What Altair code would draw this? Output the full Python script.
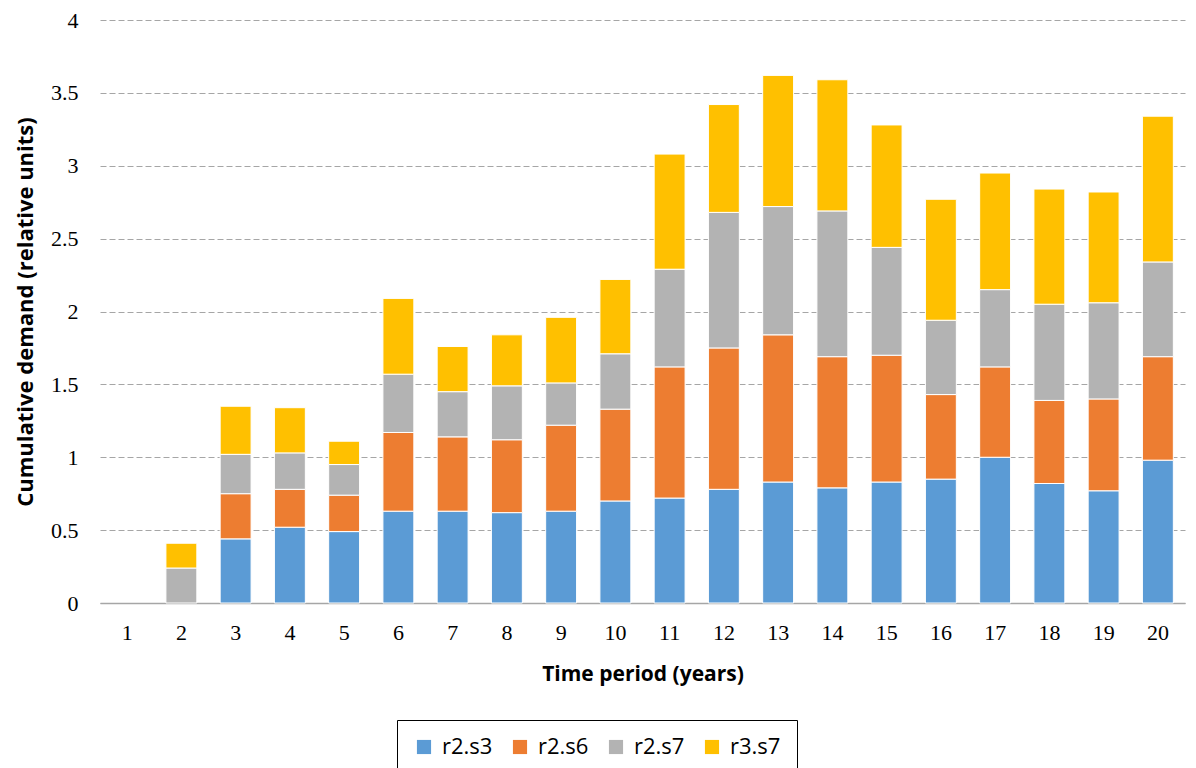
import altair as alt
import pandas as pd

periods = [str(i) for i in range(1, 21)]
series = ["r2.s3", "r2.s6", "r2.s7", "r3.s7"]
r2_s3 = [0, 0, 0.44, 0.52, 0.49, 0.63, 0.63, 0.62, 0.63, 0.70, 0.72, 0.78, 0.83, 0.79, 0.83, 0.85, 1.00, 0.82, 0.77, 0.98]
r2_s6 = [0, 0, 0.31, 0.26, 0.25, 0.54, 0.51, 0.50, 0.59, 0.63, 0.90, 0.97, 1.01, 0.90, 0.87, 0.58, 0.62, 0.57, 0.63, 0.71]
r2_s7 = [0, 0.24, 0.27, 0.25, 0.21, 0.40, 0.31, 0.37, 0.29, 0.38, 0.67, 0.93, 0.88, 1.00, 0.74, 0.51, 0.53, 0.66, 0.66, 0.65]
r3_s7 = [0, 0.17, 0.33, 0.31, 0.16, 0.52, 0.31, 0.35, 0.45, 0.51, 0.79, 0.74, 0.90, 0.90, 0.84, 0.83, 0.80, 0.79, 0.76, 1.00]
colors = ["#5B9BD5", "#ED7D31", "#B3B3B3", "#FFC000"]
y_ticks = [0, 0.5, 1, 1.5, 2, 2.5, 3, 3.5, 4]

rows = []
for k, (name, vals) in enumerate(zip(series, [r2_s3, r2_s6, r2_s7, r3_s7])):
    for p, v in zip(periods, vals):
        rows.append({"period": p, "series": name, "value": v, "order": k})
df = pd.DataFrame(rows)

chart = alt.Chart(df).mark_bar(stroke="white", strokeWidth=1).encode(
    x=alt.X("period:N", sort=periods, title="Time period (years)",
            scale=alt.Scale(domain=periods, paddingInner=0.43, paddingOuter=0.215),
            axis=alt.Axis(labelAngle=0, ticks=False, domainColor="#A6A6A6", domainWidth=1.5,
                          labelFont="Liberation Serif", labelFontSize=22, labelColor="#000000",
                          labelPadding=19, titleFont="Open Sans", titleFontSize=21,
                          titleFontWeight="bold", titleColor="#000000", titlePadding=20, grid=False)),
    y=alt.Y("value:Q", stack="zero", title="Cumulative demand (relative units)",
            scale=alt.Scale(domain=[0, 4], nice=False),
            axis=alt.Axis(values=y_ticks, format="~g", ticks=False, domain=False, grid=True,
                          gridColor="#A6A6A6", gridDash=[6, 3], gridWidth=1,
                          labelFont="Liberation Serif", labelFontSize=22, labelColor="#000000",
                          labelPadding=22, titleFont="Open Sans", titleFontSize=22,
                          titleFontWeight="bold", titleColor="#000000", titlePadding=13)),
    color=alt.Color("series:N", scale=alt.Scale(domain=series, range=colors),
                    legend=alt.Legend(title=None, orient="none", legendX=297, legendY=700,
                                      direction="horizontal", columns=4, symbolType="square",
                                      symbolSize=200, symbolStrokeWidth=0, labelFont="Open Sans",
                                      labelFontSize=22, labelColor="#000000", labelOffset=7,
                                      columnPadding=16, padding=16, strokeColor="#000000",
                                      symbolOpacity=1)),
    order=alt.Order("order:Q", sort="ascending"),
).transform_filter(
    alt.datum.value > 0
).properties(
    width=1085, height=583,
    autosize=alt.AutoSizeParams(type="none"),
    padding={"left": 92, "top": 12, "right": 3, "bottom": 165},
).configure_view(stroke=None)

chart.save("out.html", embed_options={"renderer": "svg", "actions": False})
